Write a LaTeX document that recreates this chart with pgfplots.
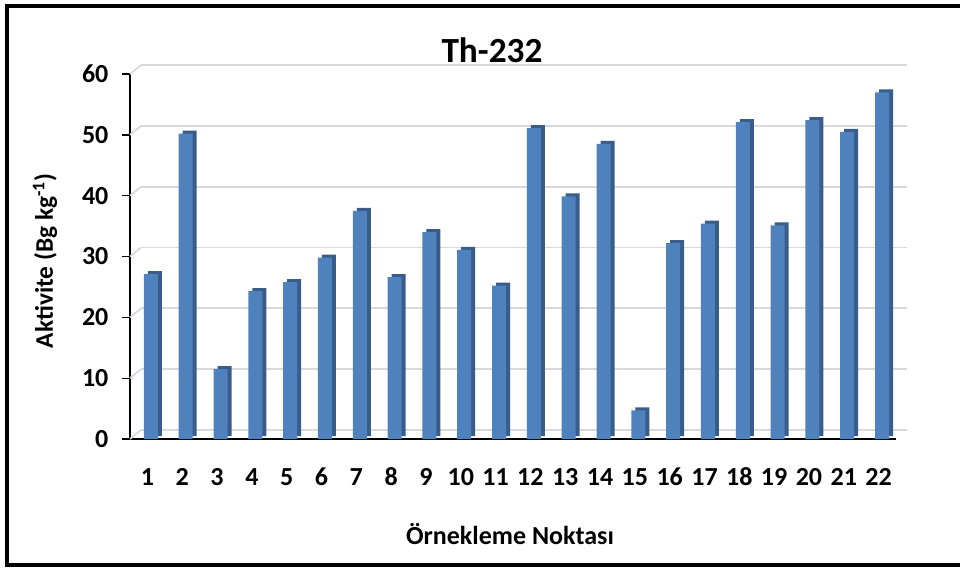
\documentclass[border=0pt]{standalone}
\usepackage{fontspec}
\setmainfont{Carlito}
\usepackage{pgfplots}
\pgfplotsset{compat=1.18}
\definecolor{barfront}{HTML}{4F81BD}
\definecolor{barside}{HTML}{385D8A}
\definecolor{gridc}{HTML}{D9D9D9}
\begin{document}
\begin{tikzpicture}
\path[use as bounding box] (0,0) rectangle (720pt,426.75pt);
\begin{axis}[
  at={(97.5pt,97.5pt)}, anchor=south west,
  scale only axis, width=574.5pt, height=273.75pt,
  xmin=0.5, xmax=22.5, ymin=0, ymax=60,
  xtick={1,...,22}, ytick={0,10,...,60},
  axis x line=bottom, axis y line=left,
  axis line style={-, black, line width=1.1pt},
  tick align=outside,
  xtick style={draw=none},
  ytick style={black, line width=1pt},
  major tick length=6pt,
  ymajorgrids,
  major grid style={gridc, line width=1.3pt, xshift=8.25pt, yshift=6.75pt},
  /pgf/number format/assume math mode=true,
  ticklabel style={font=\fontsize{19.5}{23}\selectfont\bfseries},
  xticklabel style={anchor=center, yshift=-22.5pt},
  yticklabel style={anchor=east, inner sep=0pt, xshift=-10pt},
  clip=false,
]
\pgfplotsinvokeforeach{0,10,20,30,40,50,60}{
  \draw[gridc, line width=1.3pt] (axis cs:0.5,#1) -- ++(8.25pt,6.75pt);
}
\addplot[ybar, bar width=10.5pt, bar shift=5.6pt, fill=barside, draw=none, yshift=2.25pt] coordinates {
(1,27.1) (2,50.2) (3,11.5) (4,24.3) (5,25.8) (6,29.8) (7,37.5) (8,26.6) (9,34.0) (10,31.1) (11,25.2)
(12,51.1) (13,39.9) (14,48.5) (15,4.7) (16,32.2) (17,35.4) (18,52.1) (19,35.1) (20,52.4) (21,50.5) (22,57.0)
};
\addplot[ybar, bar width=10.5pt, bar shift=2.6pt, fill=barfront, draw=none] coordinates {
(1,27.1) (2,50.2) (3,11.5) (4,24.3) (5,25.8) (6,29.8) (7,37.5) (8,26.6) (9,34.0) (10,31.1) (11,25.2)
(12,51.1) (13,39.9) (14,48.5) (15,4.7) (16,32.2) (17,35.4) (18,52.1) (19,35.1) (20,52.4) (21,50.5) (22,57.0)
};
\end{axis}
\node[font=\fontsize{26.5}{31}\selectfont\bfseries] at (369pt,389.25pt) {Th-232};
\node[font=\fontsize{19.5}{23}\selectfont\bfseries] at (382.5pt,26.5pt) {Örnekleme Noktası};
\node[font=\fontsize{19}{23}\selectfont\bfseries, rotate=90] at (33.75pt,231pt) {Aktivite (Bg kg\textsuperscript{-1})};
\draw[line width=3pt] (722pt,3pt) -- (5.25pt,3pt) -- (5.25pt,422.5pt) -- (722pt,422.5pt);
\end{tikzpicture}
\end{document}
